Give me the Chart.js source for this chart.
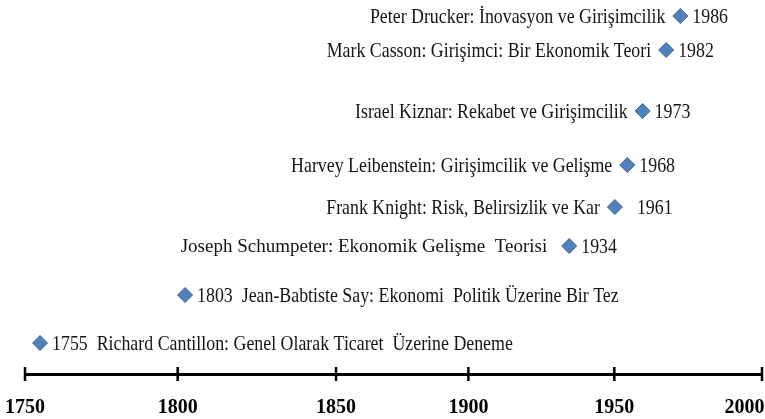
<!DOCTYPE html>
<html><head><meta charset="utf-8">
<script src="https://cdn.jsdelivr.net/npm/chart.js@4"></script>
<style>html,body{margin:0;padding:0;background:#fff;}#wrap{width:765px;height:419px;position:relative;}</style>
</head><body><div id="wrap"><canvas id="c" width="765" height="419"></canvas></div>
<script>
// Years of each work (shown as labels)
const years = ['1986', '1982', '1973', '1968', '1961', '1934', '1803', '1755'];
// Where each diamond sits on the drawn time axis
const markerPos = [1972.3, 1967.5, 1959.5, 1954.3, 1950.1, 1934.6, 1804.3, 1755.1];
// Vertical level of each entry
const levels = [358, 324, 263, 209, 167, 128, 79, 31];
// Text to the left of the diamond
const leftTexts = [
  'Peter Drucker: İnovasyon ve Girişimcilik',
  'Mark Casson: Girişimci: Bir Ekonomik Teori',
  'Israel Kiznar: Rekabet ve Girişimcilik',
  'Harvey Leibenstein: Girişimcilik ve Gelişme',
  'Frank Knight: Risk, Belirsizlik ve Kar',
  'Joseph Schumpeter: Ekonomik Gelişme  Teorisi',
  '', ''
];
// Text after the year, to the right of the diamond
const rightTitles = ['', '', '', '', '', '',
  'Jean-Babtiste Say: Ekonomi  Politik Üzerine Bir Tez',
  'Richard Cantillon: Genel Olarak Ticaret  Üzerine Deneme'
];
// Axis ticks
const tickLabels = ['1750', '1800', '1850', '1900', '1950', '2000'];
const tickPos = [1750, 1801.8, 1855.5, 1900.4, 1949.9, 2000];

const points = markerPos.map((x, i) => ({ x: x, y: levels[i] }));

const textPlugin = {
  id: 'pointTexts',
  afterDatasetsDraw(chart) {
    const ctx = chart.ctx;
    const meta = chart.getDatasetMeta(0);
    meta.data.forEach((pt, i) => {
      const x = pt.x, y = pt.y;
      const special = i === 5;
      ctx.save();
      ctx.fillStyle = '#141414';
      ctx.textBaseline = 'middle';
      if (leftTexts[i]) {
        ctx.save();
        ctx.translate(x - (special ? 22 : 15), y + 1);
        ctx.scale(special ? 1.0 : 0.85, 1);
        ctx.font = special ? '19px "Liberation Serif"' : '21px "Liberation Serif"';
        ctx.textAlign = 'right';
        ctx.fillText(leftTexts[i], 0, 0);
        ctx.restore();
      }
      const gap = i === 4 ? 22 : 12;
      const rt = years[i] + (rightTitles[i] ? '  ' + rightTitles[i] : '');
      ctx.save();
      ctx.translate(x + gap, y + 1);
      ctx.scale(0.85, 1);
      ctx.font = '21px "Liberation Serif"';
      ctx.textAlign = 'left';
      ctx.fillText(rt, 0, 0);
      ctx.restore();
      ctx.restore();
    });
  }
};

const axisTicks = {
  id: 'axisTicks',
  afterDraw(chart) {
    const s = chart.scales.x;
    const ctx = chart.ctx;
    const y = chart.chartArea.bottom;
    ctx.save();
    ctx.strokeStyle = '#000';
    ctx.lineWidth = 2.5;
    ctx.beginPath();
    s.ticks.forEach(t => {
      const px = s.getPixelForValue(t.value);
      ctx.moveTo(px, y - 7);
      ctx.lineTo(px, y + 7);
    });
    ctx.stroke();
    ctx.restore();
  }
};

new Chart(document.getElementById('c'), {
  type: 'scatter',
  data: {
    datasets: [{
      data: points,
      pointStyle: 'rectRot',
      pointRadius: 7.5,
      pointHoverRadius: 7.5,
      backgroundColor: '#4F81BD',
      borderColor: '#3B6796',
      borderWidth: 1,
      clip: false
    }]
  },
  options: {
    responsive: false,
    animation: false,
    layout: { autoPadding: false, padding: { left: 25, right: 3, top: 0, bottom: 0 } },
    plugins: { legend: { display: false }, tooltip: { enabled: false } },
    scales: {
      x: {
        type: 'linear',
        min: 1750,
        max: 2000,
        afterBuildTicks: s => { s.ticks = tickPos.map(v => ({ value: v })); },
        afterFit: s => { s.paddingLeft = 0; s.paddingRight = 0; s.height = 45; },
        grid: { display: false, drawTicks: false },
        border: { display: true, color: '#000', width: 3 },
        ticks: {
          autoSkip: false,
          maxRotation: 0,
          padding: 24,
          color: '#000',
          font: { family: 'Liberation Serif', size: 20, weight: 'bold', lineHeight: 1.0 },
          callback: (v, i) => i === tickLabels.length - 1 ? tickLabels[i] + '       ' : tickLabels[i]
        }
      },
      y: { display: false, min: 0, max: 374 }
    }
  },
  plugins: [textPlugin, axisTicks]
});
</script>
</body></html>
